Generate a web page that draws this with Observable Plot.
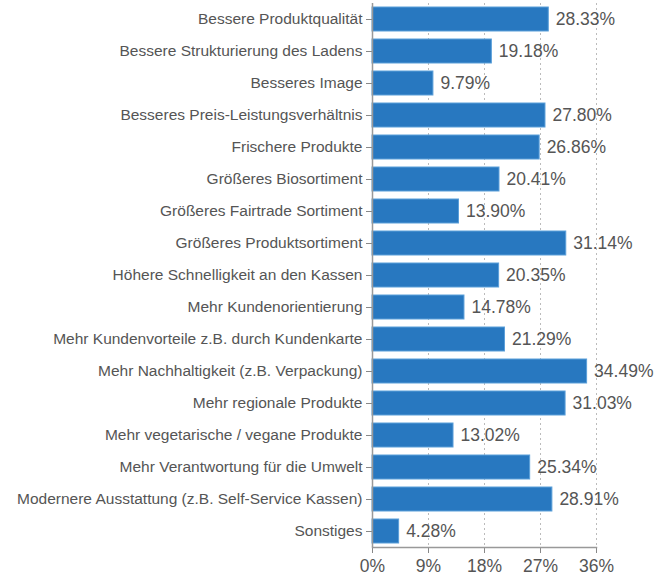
<!DOCTYPE html>
<html><head><meta charset="utf-8">
<script src="https://cdn.jsdelivr.net/npm/d3@7"></script>
<script src="https://cdn.jsdelivr.net/npm/@observablehq/plot@0.6"></script>
<style>body{margin:0;background:#fff;font-family:"Liberation Sans",Arial,sans-serif}</style>
</head><body><div id="chart"></div>
<script>
const categories = ["Bessere Produktqualität","Bessere Strukturierung des Ladens","Besseres Image","Besseres Preis-Leistungsverhältnis","Frischere Produkte","Größeres Biosortiment","Größeres Fairtrade Sortiment","Größeres Produktsortiment","Höhere Schnelligkeit an den Kassen","Mehr Kundenorientierung","Mehr Kundenvorteile z.B. durch Kundenkarte","Mehr Nachhaltigkeit (z.B. Verpackung)","Mehr regionale Produkte","Mehr vegetarische / vegane Produkte","Mehr Verantwortung für die Umwelt","Modernere Ausstattung (z.B. Self-Service Kassen)","Sonstiges"];
const values = [28.33,19.18,9.79,27.80,26.86,20.41,13.90,31.14,20.35,14.78,21.29,34.49,31.03,13.02,25.34,28.91,4.28];
const xTicks = [0,9,18,27,36];
const data = categories.map((c,i)=>({cat:c, v:values[i]}));
const chart = Plot.plot({
  width: 658, height: 575,
  marginLeft: 372, marginRight: 62, marginTop: 3, marginBottom: 28,
  style: {fontFamily: '"Liberation Sans",Arial,sans-serif', color: "#555"},
  x: {domain: [0,36], ticks: xTicks, tickFormat: d => d + "%"},
  y: {domain: categories, paddingInner: 0.25, paddingOuter: 0.1},
  marks: [
    Plot.gridX(xTicks.slice(1), {stroke: "#bbb", strokeOpacity: 1, strokeDasharray: "2,3"}),
    Plot.barX(data, {x: "v", y: "cat", fill: "#2878c0", stroke: "#5b9fd9", strokeWidth: 1}),
    Plot.text(data, {x: "v", y: "cat", text: d => d.v.toFixed(2) + "%", textAnchor: "start", dx: 7, fontSize: 17.5, fill: "#555"}),
    Plot.axisY({tickSize: 6, tickPadding: 4, fontSize: 15.5, stroke: "#888", fill: "#555", label: null}),
    Plot.ruleX([0], {stroke: "#999", strokeWidth: 1.5}),
    Plot.axisX(xTicks, {tickSize: 6, tickPadding: 6, fontSize: 17.5, stroke: "#888", fill: "#555", tickFormat: d => d + "%", label: null}),
    Plot.frame({anchor: "bottom", stroke: "#999", strokeWidth: 1.5})
  ]
});
document.getElementById("chart").appendChild(chart);
</script></body></html>
